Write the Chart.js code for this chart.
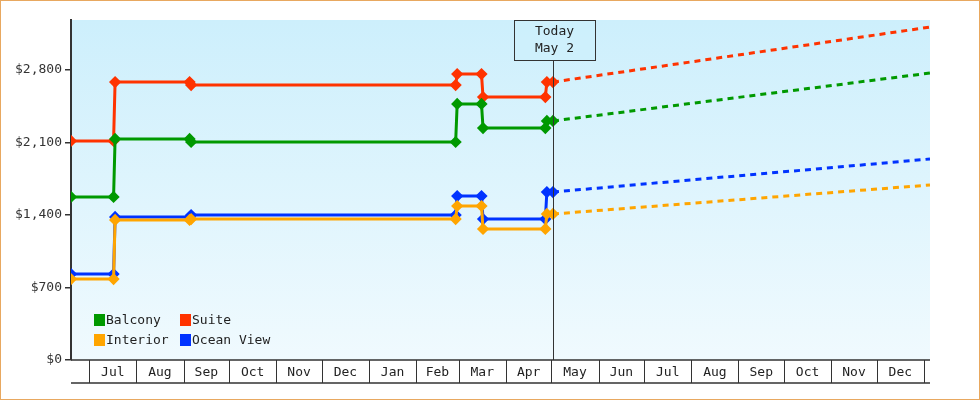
<!DOCTYPE html>
<html><head><meta charset="utf-8">
<script src="https://cdn.jsdelivr.net/npm/chart.js@4"></script>
<style>html,body{margin:0;padding:0;background:#fff}#w{width:980px;height:400px}</style>
</head><body><div id="w"><canvas id="c" width="980" height="400"></canvas></div>
<script>
// x values are days counted from July 1
const seriesNames = ['Balcony','Suite','Interior','Ocean View'];
const seriesColors = ['#009900','#ff3300','#ffa500','#0033ff'];
const histDays = [-12,16,17,66,67,241,242,258,259,300,301,305];
const balconyHist  = [1574,1574,2134,2134,2105,2105,2472,2472,2240,2240,2308,2308];
const suiteHist    = [2115,2115,2684,2684,2655,2655,2761,2761,2539,2539,2684,2684];
const interiorHist = [782,782,1352,1352,1361,1361,1487,1487,1265,1265,1410,1410];
const oceanHist    = [830,830,1381,1381,1400,1400,1583,1583,1361,1361,1622,1622];
const forecastDays = [305,553];
const balconyFc  = [2308,2771];
const suiteFc    = [2684,3215];
const interiorFc = [1410,1690];
const oceanFc    = [1622,1941];
const yTicks = [0,700,1400,2100,2800];
const monthLabels = ['Jul','Aug','Sep','Oct','Nov','Dec','Jan','Feb','Mar','Apr','May','Jun','Jul','Aug','Sep','Oct','Nov','Dec'];
const monthStarts = [0,31,62,92,123,153,184,215,243,274,304,335,365,396,427,457,488,518,549];
const todayDay = 305;
const todayLabel = ['Today','May 2'];

const hist = [balconyHist,suiteHist,interiorHist,oceanHist];
const fc = [balconyFc,suiteFc,interiorFc,oceanFc];
const FONT = '"DejaVu Sans Mono", monospace';
const datasets = [];
const order = [2,3,0,1];
order.forEach(i=>{
  datasets.push({label:seriesNames[i],data:histDays.map((d,k)=>({x:d,y:hist[i][k]})),
    borderColor:seriesColors[i],backgroundColor:seriesColors[i],borderWidth:3,
    pointStyle:'rectRot',pointRadius:4,pointHoverRadius:4,fill:false,tension:0});
  datasets.push({label:seriesNames[i]+' fc',data:forecastDays.map((d,k)=>({x:d,y:fc[i][k]})),
    borderColor:seriesColors[i],borderWidth:3,borderDash:[6,5],pointRadius:0,fill:false});
});

const deco = {
  id:'deco',
  beforeDraw(chart){
    const {ctx,chartArea:a}=chart;
    const g=ctx.createLinearGradient(0,a.top,0,a.bottom);
    g.addColorStop(0,'#cdeffc');g.addColorStop(1,'#f0fafe');
    ctx.fillStyle=g;ctx.fillRect(a.left,a.top,a.right-a.left,a.bottom-a.top);
  },
  afterDraw(chart){
    const {ctx,chartArea:a,scales:{x}}=chart;
    ctx.save();
    ctx.strokeStyle='#e8a860';ctx.lineWidth=1;ctx.strokeRect(0.5,0.5,979,399);
    // x axis boxes
    ctx.strokeStyle='#333';ctx.lineWidth=1.5;
    ctx.beginPath();ctx.moveTo(a.left,a.bottom);ctx.lineTo(a.right,a.bottom);
    ctx.moveTo(a.left,a.bottom+23);ctx.lineTo(a.right,a.bottom+23);ctx.stroke();
    ctx.lineWidth=1;
    ctx.font='13px '+FONT;ctx.fillStyle='#222';ctx.textAlign='center';ctx.textBaseline='middle';
    monthStarts.forEach((s,i)=>{
      const px=Math.round(x.getPixelForValue(s))+0.5;
      if(px<=a.right){ctx.beginPath();ctx.moveTo(px,a.bottom);ctx.lineTo(px,a.bottom+23);ctx.stroke();}
      if(i<monthLabels.length){
        const m=(x.getPixelForValue(s)+x.getPixelForValue(monthStarts[i+1]))/2;
        ctx.fillText(monthLabels[i],m,a.bottom+13);
      }
    });
    // today
    const tx=Math.round(x.getPixelForValue(todayDay))+0.5;
    ctx.beginPath();ctx.moveTo(tx,a.top+40);ctx.lineTo(tx,a.bottom);ctx.stroke();
    ctx.fillStyle='rgba(205,239,252,0.9)';ctx.fillRect(tx-39,a.top,81,40);
    ctx.strokeStyle='#333';ctx.strokeRect(tx-39,a.top+0.5,81,40);
    ctx.fillStyle='#222';
    ctx.fillText(todayLabel[0],tx+1,a.top+12);ctx.fillText(todayLabel[1],tx+1,a.top+29);
    // legend
    const pos=[[94,320],[180,320],[94,340],[180,340]];
    seriesNames.forEach((n,i)=>{
      const [lx,ly]=pos[i];
      ctx.fillStyle=seriesColors[i];ctx.fillRect(lx,ly-6,11,12);
      ctx.fillStyle='#222';ctx.textAlign='left';ctx.fillText(n,lx+12,ly+1);
    });
    ctx.restore();
  }
};

new Chart(document.getElementById('c'),{
  type:'line',
  data:{datasets},
  options:{responsive:false,animation:false,
    layout:{padding:{left:0,right:50,top:20,bottom:0}},
    plugins:{legend:{display:false},tooltip:{enabled:false}},
    scales:{
      x:{type:'linear',min:-12,max:553,ticks:{display:false},grid:{display:false},border:{display:false},
        afterFit(s){s.height=40;}},
      y:{min:0,max:3283,afterFit(s){s.width=71;},
        afterBuildTicks(s){s.ticks=yTicks.map(v=>({value:v}));},
        ticks:{color:'#333',font:{family:FONT,size:13},padding:3,
          callback:v=>'$'+v.toLocaleString('en-US')},
        grid:{drawOnChartArea:false,tickLength:6,color:'#333',lineWidth:1.5},
        border:{display:true,color:'#333',width:2}}
    }
  },
  plugins:[deco]
});
</script></body></html>
